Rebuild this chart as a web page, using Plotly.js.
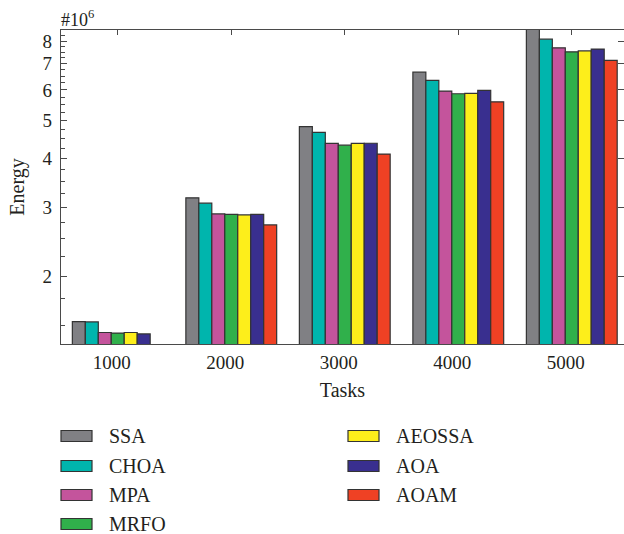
<!DOCTYPE html>
<html>
<head>
<meta charset="utf-8">
<script src="https://cdn.plot.ly/plotly-3.0.1.min.js"></script>
<style>html,body{margin:0;padding:0;overflow:hidden;background:#fff}</style>
</head>
<body>
<div id="chart" style="width:624px;height:534px"></div>
<script>
// Categories
var tasks = ['1000', '2000', '3000', '4000', '5000'];
// Series (Energy)
var SSA    = [1.530e6, 3.175e6, 4.83e6, 6.66e6, 8.60e6];
var CHOA   = [1.527e6, 3.076e6, 4.67e6, 6.345e6, 8.09e6];
var MPA    = [1.435e6, 2.888e6, 4.375e6, 5.956e6, 7.69e6];
var MRFO   = [1.430e6, 2.880e6, 4.33e6, 5.865e6, 7.51e6];
var AEOSSA = [1.435e6, 2.870e6, 4.375e6, 5.876e6, 7.55e6];
var AOA    = [1.423e6, 2.880e6, 4.38e6, 5.98e6, 7.63e6];
var AOAM   = [1.330e6, 2.706e6, 4.108e6, 5.593e6, 7.14e6];
var seriesNames = ['SSA', 'CHOA', 'MPA', 'MRFO', 'AEOSSA', 'AOA', 'AOAM'];
var seriesValues = [SSA, CHOA, MPA, MRFO, AEOSSA, AOA, AOAM];
var seriesColors = ['#808084', '#00b5ad', '#c4549c', '#30b04b', '#fdee1b', '#392f8f', '#ef4124'];
// Tick labels
var majorTickVals = [2e6, 3e6, 4e6, 5e6, 6e6, 7e6, 8e6];
var majorTickText = ['2', '3', '4', '5', '6', '7', '8'];
var minorTickVals = [1.5e6, 1.75e6, 2.25e6, 2.5e6, 2.75e6, 3.25e6, 3.5e6, 3.75e6, 4.25e6, 4.5e6, 4.75e6,
                     5.25e6, 5.5e6, 5.75e6, 6.25e6, 6.5e6, 6.75e6, 7.25e6, 7.5e6, 7.75e6, 8.25e6, 8.5e6];

var FONT = 'Liberation Serif, Times New Roman, serif';
var TXT = '#231f20';
var AX = '#4a4a4a';

var traces = seriesNames.map(function (n, i) {
  return {
    type: 'bar', name: n, x: tasks, y: seriesValues[i],
    marker: {color: seriesColors[i], line: {color: '#333333', width: 1.2}},
    showlegend: false, hoverinfo: 'x+y+name'
  };
});
traces.push({type: 'scatter', x: [], y: [], xaxis: 'x2', yaxis: 'y2', showlegend: false, hoverinfo: 'skip'});

// Plot area in pixels
var L = 61, T = 30, R = 624, B = 344, W = 624, H = 534;
function px(x) { return (x - L) / (R - L); }
function py(y) { return (B - y) / (B - T); }

var yr = [Math.log10(1.341e6), Math.log10(8.54e6)];
var xr = [-0.5, 4.46];

var shapes = [], annotations = [];
var colX = [[61, 107], [348, 394]];
var rowY = [436, 466, 495, 524];
seriesNames.forEach(function (n, i) {
  var c = i < 4 ? 0 : 1, r = i < 4 ? i : i - 4;
  var cy = rowY[r];
  shapes.push({type: 'rect', xref: 'paper', yref: 'paper',
    x0: px(colX[c][0]), x1: px(colX[c][0] + 31), y0: py(cy + 5.5), y1: py(cy - 5.5),
    fillcolor: seriesColors[i], line: {color: '#333333', width: 1.2}});
  annotations.push({xref: 'paper', yref: 'paper', x: px(colX[c][1]), y: py(cy),
    xanchor: 'left', yanchor: 'middle', text: n, showarrow: false,
    font: {family: FONT, size: 20, color: TXT}});
});
annotations.push({xref: 'paper', yref: 'paper', x: 0, y: 1, xanchor: 'left', yanchor: 'bottom',
  text: '#10<sup>6</sup>', showarrow: false, xshift: -2, yshift: -2,
  font: {family: FONT, size: 18, color: TXT}});

var layout = {
  width: W, height: H,
  margin: {l: L, r: W - R, t: T, b: H - B, pad: 0},
  paper_bgcolor: '#ffffff', plot_bgcolor: '#ffffff',
  font: {family: FONT, color: TXT, size: 19},
  barmode: 'group', bargap: 0.2, bargroupgap: 0,
  xaxis: {
    type: 'category', range: xr, showgrid: false, zeroline: false,
    showline: true, linecolor: AX, linewidth: 1.3, ticks: '',
    ticklabelstandoff: 1, ticklabelshift: -6,
    tickfont: {family: FONT, size: 19, color: TXT},
    title: {text: 'Tasks', font: {family: FONT, size: 20, color: TXT}, standoff: 11}
  },
  yaxis: {
    type: 'log', range: yr, showgrid: false, zeroline: false,
    showline: true, linecolor: AX, linewidth: 1.3,
    ticks: 'inside', ticklen: 6, tickwidth: 1, tickcolor: AX,
    tickmode: 'array', tickvals: majorTickVals, ticktext: majorTickText,
    minor: {tickmode: 'array', tickvals: minorTickVals, ticks: 'inside', ticklen: 4, tickwidth: 1, tickcolor: AX},
    ticklabelstandoff: 4,
    tickfont: {family: FONT, size: 19, color: TXT},
    title: {text: 'Energy', font: {family: FONT, size: 20, color: TXT}, standoff: 12}
  },
  xaxis2: {
    overlaying: 'x', side: 'top', anchor: 'y2', type: 'linear', range: xr,
    showgrid: false, zeroline: false, showline: true, linecolor: AX, linewidth: 1.3,
    ticks: 'inside', ticklen: 5, tickcolor: AX, tickmode: 'array', tickvals: [0, 1, 2, 3, 4],
    showticklabels: false
  },
  yaxis2: {
    overlaying: 'y', side: 'right', anchor: 'x2', type: 'log', range: yr,
    showgrid: false, zeroline: false, showline: false,
    ticks: 'inside', ticklen: 6, tickcolor: AX, tickmode: 'array', tickvals: majorTickVals,
    showticklabels: false
  },
  shapes: shapes,
  annotations: annotations
};

Plotly.newPlot('chart', traces, layout, {displayModeBar: false, staticPlot: true});
</script>
</body>
</html>
